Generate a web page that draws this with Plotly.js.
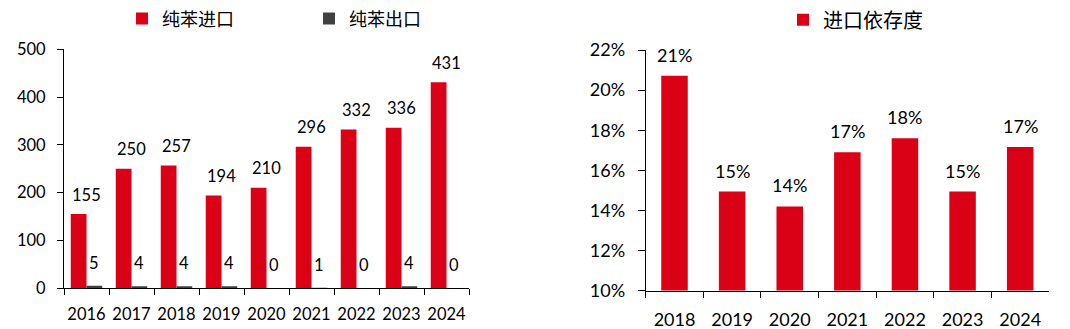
<!DOCTYPE html>
<html><head><meta charset="utf-8">
<script src="https://cdn.plot.ly/plotly-3.0.1.min.js"></script>
<style>html,body{margin:0;padding:0;background:#fff}#chart{width:1070px;height:329px}</style>
</head><body><div id="chart"></div>
<script>
const years = ['2016','2017','2018','2019','2020','2021','2022','2023','2024'];
const importVals = [155,250,257,194,210,296,332,336,431];
const exportVals = [5,4,4,4,0,1,0,4,0];
const depYears = ['2018','2019','2020','2021','2022','2023','2024'];
const depVals = [0.2072,0.1494,0.1420,0.1690,0.1760,0.1494,0.1716];

const RED = '#DA0016', DARK = '#404040';
const numFont = 'Lato, "Liberation Sans", sans-serif';
const cjkFont = '"Noto Sans CJK SC", sans-serif';
const W = 1070, H = 329;
const fx = p => p / W, fy = p => 1 - p / H;

const traces = [
  {type:'bar', x:years, y:importVals, name:'纯苯进口', marker:{color:RED}, xaxis:'x', yaxis:'y', legend:'legend', hoverinfo:'skip'},
  {type:'bar', x:years, y:exportVals, name:'纯苯出口', marker:{color:DARK}, xaxis:'x', yaxis:'y', legend:'legend2', hoverinfo:'skip'},
  {type:'bar', x:depYears, y:depVals, name:'进口依存度', marker:{color:RED}, xaxis:'x2', yaxis:'y2', legend:'legend3', width:0.46, hoverinfo:'skip'}
];

const annotations = [];
importVals.forEach((v,i)=>annotations.push({xref:'x', yref:'y', x:i, y:v, text:String(v), showarrow:false, yanchor:'middle', yshift:19.5, font:{family:numFont, size:16.5, color:'#000'}}));
exportVals.forEach((v,i)=>annotations.push({xref:'x', yref:'y', x:i, y:v, text:String(v), showarrow:false, yanchor:'middle', xshift:7, yshift:23, font:{family:numFont, size:16.5, color:'#000'}}));
depVals.forEach((v,i)=>annotations.push({xref:'x2', yref:'y2', x:i, y:v, text:Math.round(v*100)+'%', showarrow:false, yanchor:'middle', yshift:21, font:{family:numFont, size:18, color:'#000'}}));

const axCommon = {showline:true, linecolor:'#000', linewidth:1, ticks:'outside', tickcolor:'#000', showgrid:false, zeroline:false, fixedrange:true};

const layout = {
  width:W, height:H, margin:{l:0,r:0,t:0,b:0},
  paper_bgcolor:'#fff', plot_bgcolor:'#fff',
  barmode:'group', bargap:0.3, bargroupgap:0,
  showlegend:true,
  xaxis:Object.assign({}, axCommon, {domain:[fx(64), fx(469)], anchor:'y', type:'category', range:[-0.5, years.length-0.5], tickson:'boundaries', ticklen:6, tickangle:0, ticklabelstandoff:11, tickfont:{family:numFont, size:16.5, color:'#000'}}),
  yaxis:Object.assign({}, axCommon, {domain:[fy(287.5), fy(45)], anchor:'x', range:[0,500], dtick:100, ticklen:6, ticklabelstandoff:8, tickfont:{family:numFont, size:16.5, color:'#000'}}),
  xaxis2:Object.assign({}, axCommon, {domain:[fx(645.7), fx(1049)], anchor:'y2', type:'category', range:[-0.5, depYears.length-0.5], tickson:'boundaries', ticklen:6, tickangle:0, ticklabelstandoff:13, tickfont:{family:numFont, size:18, color:'#000'}}),
  yaxis2:Object.assign({}, axCommon, {domain:[fy(290), fy(45.7)], anchor:'x2', range:[0.10,0.22], dtick:0.02, tickformat:'.0%', ticklen:7, ticklabelstandoff:9, tickfont:{family:numFont, size:18, color:'#000'}}),
  legend:{x:fx(122), y:fy(14), xanchor:'left', yanchor:'middle', orientation:'h', font:{family:cjkFont, size:18, color:'#000'}, bgcolor:'rgba(0,0,0,0)'},
  legend2:{x:fx(309), y:fy(14), xanchor:'left', yanchor:'middle', orientation:'h', font:{family:cjkFont, size:18, color:'#000'}, bgcolor:'rgba(0,0,0,0)'},
  legend3:{x:fx(783), y:fy(15), xanchor:'left', yanchor:'middle', orientation:'h', font:{family:cjkFont, size:20, color:'#000'}, bgcolor:'rgba(0,0,0,0)'},
  annotations:annotations
};

Plotly.newPlot('chart', traces, layout, {displayModeBar:false, staticPlot:true});
</script></body></html>
